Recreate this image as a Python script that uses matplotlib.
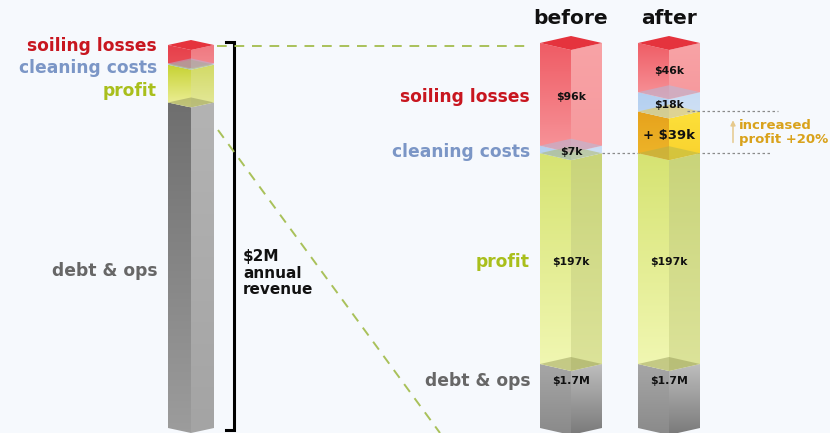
import numpy as np
import matplotlib.pyplot as plt
from matplotlib.patches import Polygon
from matplotlib.colors import LinearSegmentedColormap

plt.rcParams['font.family'] = ['DejaVu Sans']
plt.rcParams['font.weight'] = 'bold'

# data, $k, listed bottom to top
segments = ['debt & ops', 'profit', 'cleaning costs', 'soiling losses']
revenue_k = [1700, 197, 7, 96]
before_k = [1700, 197, 7, 96]
before_labels = ['$1.7M', '$197k', '$7k', '$96k']
after_segments = ['debt & ops', 'profit', 'extra profit', 'cleaning costs', 'soiling losses']
after_k = [1700, 197, 39, 18, 46]
after_labels = ['$1.7M', '$197k', '+ $39k', '$18k', '$46k']
bar_titles = ['before', 'after']
revenue_text = '$2M\nannual\nrevenue'
gain_text = 'increased\nprofit +20%'

W, H = 830, 433
BG = '#f6f9fd'

text_col = {'soiling losses': '#c8161f', 'cleaning costs': '#7b96c6',
            'profit': '#a9bf1c', 'debt & ops': '#676767'}

# face colours: (top, bottom) of left face, (top, bottom) of right face, top face
pal = {
    'soiling losses': dict(l=('#ef5c65', '#f7959a'), r=('#f8a3a6', '#f6999d'), t='#e5333d'),
    'cleaning costs': dict(l=('#b3cff0', '#bcd5f2'), r=('#c8dcf4', '#cfe0f5'), t='#a6c4ea'),
    'profit': dict(l=('#d6e372', '#f1f7b3'), r=('#c9d47a', '#dce39a'), t='#aab24e'),
    'extra profit': dict(l=('#e6a21c', '#eeb62a'), r=('#fde03a', '#f9d22e'), t='#f3c51e'),
    'debt & ops': dict(l=('#a6a6a6', '#8a8a8a'), r=('#bdbdbd', '#7a7a7a'), t='#8f9350'),
}
pal_overview = dict(pal)
pal_overview['soiling losses'] = dict(l=('#e63e49', '#ea5058'), r=('#f07880', '#f28a90'), t='#e5333d')
pal_overview['profit'] = dict(l=('#c6d232', '#eef09c'), r=('#d2da66', '#e4e89a'), t='#9ca04a')
pal_overview['debt & ops'] = dict(l=('#6f6f6f', '#9c9c9c'), r=('#b3b3b3', '#a4a4a4'), t='#8a8d55')

fig = plt.figure(figsize=(W / 100, H / 100), dpi=100)
fig.patch.set_facecolor(BG)


def value_axes(v_top, px_top, v_bot, px_bot):
    ppk = (px_bot - px_top) / (v_top - v_bot)
    ax = fig.add_axes([0, 0, 1, 1])
    ax.set_xlim(0, W)
    ax.set_ylim(v_bot - (H - px_bot) / ppk, v_top + px_top / ppk)
    ax.set_autoscale_on(False)
    ax.axis('off')
    ax.patch.set_visible(False)
    return ax, ppk


def grad_face(ax, verts, top_c, bot_c):
    poly = Polygon(verts, closed=True, facecolor='none', edgecolor='none')
    ax.add_patch(poly)
    xs = [v[0] for v in verts]
    ys = [v[1] for v in verts]
    cmap = LinearSegmentedColormap.from_list('g', [bot_c, top_c])
    im = ax.imshow(np.linspace(0, 1, 64).reshape(-1, 1), cmap=cmap, origin='lower',
                   extent=(min(xs), max(xs), min(ys), max(ys)), aspect='auto',
                   interpolation='bilinear', zorder=2)
    im.set_clip_path(poly)


def prism_bar(ax, ppk, xc, half, d_px, names, vals, floor, colors):
    dv = d_px / ppk
    xl, xr = xc - half, xc + half
    tops = np.cumsum(vals)
    bots = np.concatenate([[floor], tops[:-1]])
    for name, y0, y1 in zip(names, bots, tops):
        c = colors[name]
        grad_face(ax, [(xl, y1), (xc, y1 - dv), (xc, y0 - dv), (xl, y0)], *c['l'])
        grad_face(ax, [(xc, y1 - dv), (xr, y1), (xr, y0), (xc, y0 - dv)], *c['r'])
    # top faces, the inner ones seen through the segment above
    for i, (name, y1) in enumerate(zip(names, tops)):
        last = i == len(names) - 1
        ax.add_patch(Polygon([(xl, y1), (xc, y1 + dv), (xr, y1), (xc, y1 - dv)],
                             closed=True, facecolor=colors[name]['t'], edgecolor='none',
                             alpha=1 if last else 0.45, zorder=3))
    return bots, tops


# overview bar: whole revenue
ax_o, ppk_o = value_axes(sum(revenue_k), 45, 0, 428)
prism_bar(ax_o, ppk_o, 191, 23, 5, segments, revenue_k, 0, pal_overview)

# zoomed bars: top of the revenue only
total = sum(before_k)
ax_z, ppk_z = value_axes(total, 43, before_k[0], 364)
floor = ax_z.get_ylim()[0] + 5 / ppk_z
b_bots, b_tops = prism_bar(ax_z, ppk_z, 571, 31, 7, segments, before_k, floor, pal)
a_bots, a_tops = prism_bar(ax_z, ppk_z, 669, 31, 7, after_segments, after_k, floor, pal)


def label_y(bots, tops, i):
    if i == 0:
        return tops[0] - 17 / ppk_z
    return (bots[i] + tops[i]) / 2 - 3 / ppk_z


for i, (lab, name) in enumerate(zip(before_labels, segments)):
    y = label_y(b_bots, b_tops, i)
    ax_z.text(571, y, lab, ha='center', va='center', fontsize=7.8, color='#111111', zorder=5)
    ax_z.text(530, y, name, ha='right', va='center', fontsize=12.3, color=text_col[name], zorder=5)
for i, lab in enumerate(after_labels):
    y = label_y(a_bots, a_tops, i)
    big = lab.startswith('+')
    ax_z.text(669, y, lab, ha='center', va='center', fontsize=9.5 if big else 7.8,
              color='#111111', zorder=5)

ax_z.text(571, total + 25 / ppk_z, bar_titles[0], ha='center', va='center',
          fontsize=14.5, color='#111111')
ax_z.text(669, total + 25 / ppk_z, bar_titles[1], ha='center', va='center',
          fontsize=14.5, color='#111111')

# dotted guides around the profit gain
gain_bot = after_k[0] + after_k[1]
gain_top = gain_bot + after_k[2]
ax_z.plot([602, 772], [gain_bot, gain_bot], ls=(0, (2, 2)), lw=0.9, color='#8a8a8a', zorder=1)
ax_z.plot([687, 778], [gain_top, gain_top], ls=(0, (2, 2)), lw=0.9, color='#8a8a8a', zorder=4)
ax_z.annotate('', xy=(733, gain_top - 6 / ppk_z), xytext=(733, gain_bot + 8 / ppk_z),
              arrowprops=dict(arrowstyle='-|>', color='#e6c98c', lw=1.1, mutation_scale=7))
ax_z.text(739, (gain_top + gain_bot) / 2, gain_text, ha='left', va='center',
          fontsize=9.5, color='#d9a21b', linespacing=1.05)

# pixel-space annotations
ax = fig.add_axes([0, 0, 1, 1])
ax.set_xlim(0, W)
ax.set_ylim(H, 0)
ax.axis('off')
ax.patch.set_visible(False)

left_pos = {'soiling losses': 46, 'cleaning costs': 68, 'profit': 91, 'debt & ops': 271}
for name in segments:
    ax.text(157, left_pos[name], name, ha='right', va='center', fontsize=12.3,
            color=text_col[name])

ax.plot([226, 234, 234, 226], [42, 42, 430, 430], color='black', lw=2.2,
        solid_joinstyle='miter')
ax.text(243, 273, revenue_text, ha='left', va='center', fontsize=11,
        color='#111111', linespacing=1.15)

ax.plot([217, 530], [46, 46], color='#a9c15a', lw=1.4, ls=(0, (5, 4)))
ax.plot([218, 440], [130, 433], color='#a9c15a', lw=1.4, ls=(0, (5, 4)))

fig.savefig('out.png', dpi=100, facecolor=BG)
